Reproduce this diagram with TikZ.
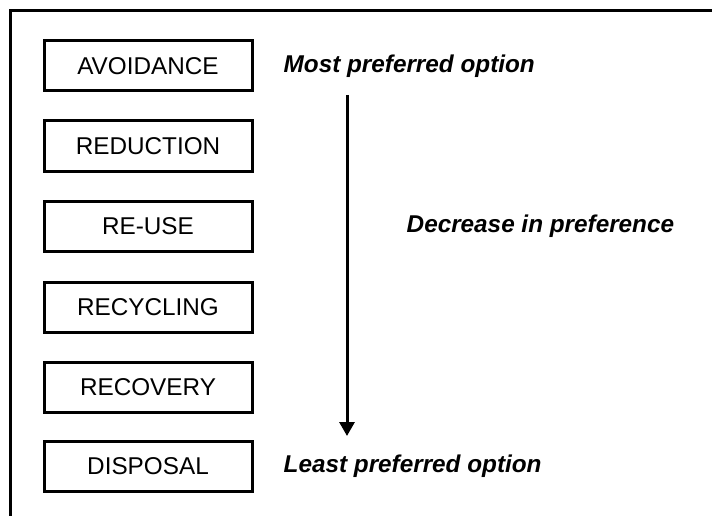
\documentclass[tikz,border=0pt]{standalone}
\usepackage{fontspec}
\setmainfont{Liberation Sans}
\usetikzlibrary{positioning, arrows.meta}
\tikzset{>={Triangle[width=15pt,length=14pt]}}
\tikzset{
  option/.style={draw, line width=3pt, minimum width=208pt, minimum height=50pt, inner sep=0pt, font=\fontsize{24.3}{28}\selectfont},
  remark/.style={inner sep=0pt, font=\fontsize{24.3}{28}\selectfont\bfseries\itshape}
}

\begin{document}
\begin{tikzpicture}[x=1pt, y=-1pt]
\useasboundingbox (0,0) rectangle (712,516);
\draw[line width=3pt] (10,516) -- (10,11) -- (712,11);
\node[option] (avoid) at (148,66) {AVOIDANCE};
\node[option] (reduce) at (148,146) {REDUCTION};
\node[option] (reuse) at (148,226) {RE-USE};
\node[option] (recycle) at (148,307) {RECYCLING};
\node[option] (recover) at (148,387) {RECOVERY};
\node[option] (dispose) at (148,466) {DISPOSAL};
\node[remark, right=30pt of avoid] (most) {Most preferred option};
\node[remark, right=153pt of reuse] (decrease) {Decrease in preference};
\node[remark, right=30pt of dispose] (least) {Least preferred option};
\coordinate (start) at (347,95);
\coordinate (stop) at (347,436);
\draw[->, line width=3pt] (start) -- (stop);
\end{tikzpicture}
\end{document}
